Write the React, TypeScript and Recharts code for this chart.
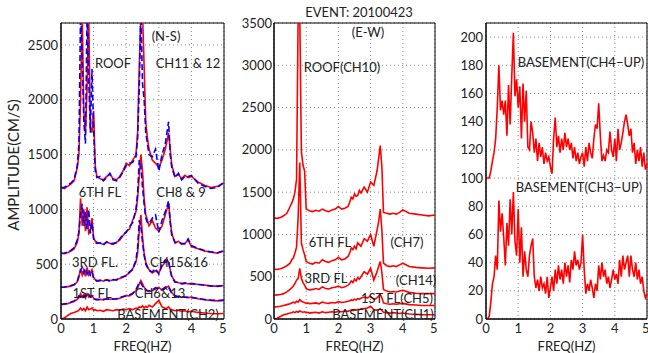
import React from "react";
import {
  LineChart,
  Line,
  XAxis,
  YAxis,
  CartesianGrid,
  ReferenceArea,
} from "recharts";

// frequency grid (Hz) for the N-S and E-W panels
const F12 = [
  0, 0.1, 0.2, 0.3, 0.4, 0.5,
  0.55, 0.6, 0.65, 0.7, 0.75, 0.8, 0.85, 0.9, 0.95, 1.0, 1.05,
  1.1, 1.2, 1.3, 1.4, 1.5, 1.6, 1.7, 1.8, 1.9, 2.0, 2.1, 2.2, 2.3,
  2.35, 2.4, 2.45, 2.5, 2.55, 2.6, 2.65,
  2.7, 2.8, 2.9, 3.0, 3.1, 3.2,
  3.25, 3.3, 3.35,
  3.4, 3.5, 3.6, 3.7, 3.8, 3.9, 4.0,
  4.2, 4.4, 4.6, 4.8, 5.0,
];

// N-S (red = first channel, blue = second channel)
const NS_ROOF_R = [
  1200, 1190, 1210, 1230, 1260, 1380,
  1500, 2000, 2800, 1900, 1700, 2100, 2800, 1750, 1700, 1900, 1400,
  1300, 1280, 1270, 1300, 1320, 1280, 1270, 1300, 1350, 1420, 1400, 1450, 1500,
  1700, 2300, 2800, 2800, 2300, 1800, 1650,
  1550, 1450, 1420, 1380, 1450, 1550,
  1620, 1700, 1550,
  1400, 1300, 1320, 1280, 1310, 1290, 1300,
  1250, 1220, 1200, 1210, 1240,
];
const NS_ROOF_B = [
  1200, 1200, 1220, 1240, 1270, 1400,
  1600, 2800, 2400, 1800, 1600, 2800, 2200, 1700, 2280, 1750, 1350,
  1290, 1300, 1260, 1290, 1330, 1270, 1260, 1290, 1340, 1400, 1420, 1430, 1480,
  1650, 2100, 2800, 2150, 2000, 1700, 1600,
  1500, 1480, 1550, 1350, 1500, 1600,
  1700, 1800, 1500,
  1380, 1290, 1330, 1270, 1300, 1300, 1310,
  1240, 1210, 1190, 1200, 1250,
];
const NS_6TH_R = [
  600, 595, 605, 620, 640, 700,
  780, 1100, 850, 1000, 800, 1020, 780, 800, 920, 740, 710,
  700, 690, 680, 700, 690, 680, 700, 720, 760, 800, 820, 900, 980,
  1100, 1300, 1500, 1350, 1100, 950, 900,
  850, 900, 830, 800, 850, 950,
  1000, 1050, 900,
  780, 690, 710, 680, 690, 720, 660,
  640, 620, 610, 600, 620,
];
const NS_6TH_B = [
  600, 602, 610, 625, 650, 720,
  800, 950, 1050, 850, 980, 820, 1000, 780, 880, 730, 700,
  690, 695, 675, 705, 685, 690, 695, 730, 770, 790, 840, 880, 1000,
  1150, 1450, 1400, 1200, 1050, 920, 880,
  870, 920, 950, 790, 900, 980,
  1020, 1080, 880,
  760, 700, 700, 690, 685, 730, 670,
  645, 625, 612, 605, 625,
];
const NS_3RD_R = [
  290, 290, 295, 300, 310, 340,
  380, 460, 400, 450, 390, 470, 400, 420, 450, 380, 360,
  350, 355, 345, 360, 350, 355, 360, 370, 380, 400, 420, 460, 520,
  600, 800, 950, 750, 600, 520, 480,
  450, 420, 440, 420, 480, 520,
  540, 520, 450,
  390, 340, 330, 325, 330, 320, 325,
  315, 310, 300, 300, 305,
];
const NS_3RD_B = [
  290, 292, 298, 305, 315, 345,
  400, 440, 470, 420, 460, 410, 450, 400, 430, 370, 355,
  345, 350, 350, 355, 345, 360, 355, 375, 385, 395, 430, 450, 540,
  650, 900, 850, 700, 580, 500, 470,
  440, 430, 460, 410, 500, 540,
  520, 530, 440,
  380, 335, 335, 320, 325, 325, 320,
  318, 308, 302, 298, 305,
];
const NS_1ST_R = [
  130, 135, 140, 150, 160, 180,
  195, 230, 200, 220, 190, 230, 200, 210, 215, 190, 180,
  175, 180, 175, 185, 180, 185, 180, 190, 200, 215, 210, 230, 260,
  280, 320, 350, 320, 290, 270, 260,
  250, 260, 270, 290, 260, 280,
  290, 300, 270,
  240, 210, 205, 200, 200, 195, 200,
  185, 175, 170, 165, 170,
];
const NS_1ST_B = [
  135, 138, 142, 152, 165, 185,
  210, 200, 225, 200, 220, 205, 225, 200, 205, 185, 178,
  180, 175, 180, 180, 185, 180, 185, 195, 205, 210, 220, 235, 270,
  300, 340, 330, 300, 280, 265, 255,
  255, 265, 285, 275, 270, 290,
  300, 290, 260,
  235, 212, 200, 202, 198, 197, 195,
  188, 178, 172, 168, 172,
];
const NS_BASE = [
  0, 10, 30, 50, 60, 70,
  80, 100, 80, 95, 75, 110, 85, 90, 100, 80, 85,
  75, 80, 70, 85, 80, 75, 85, 80, 90, 85, 95, 85, 100,
  95, 110, 105, 120, 100, 115, 105,
  125, 110, 140, 170, 110, 95,
  100, 110, 90,
  85, 75, 80, 70, 75, 65, 70,
  60, 55, 50, 48, 50,
];

// E-W
const EW_ROOF = [
  1195, 1190, 1200, 1220, 1250, 1330,
  1370, 1420, 1500, 1650, 3600, 3600, 1980, 1820, 1750, 1300, 1290,
  1280, 1270, 1285, 1275, 1300, 1280, 1270, 1290, 1300, 1330, 1300, 1310, 1330,
  1380, 1440, 1420, 1480, 1450, 1460, 1520,
  1490, 1560, 1500, 1620, 1580, 1750,
  1900, 2050, 1800,
  1260, 1250, 1240, 1250, 1240, 1260, 1290,
  1250, 1240, 1230, 1220, 1230,
];
const EW_6TH = [
  590, 585, 595, 610, 630, 660,
  700, 720, 780, 850, 1200, 1850, 900, 820, 760, 680, 670,
  660, 650, 670, 660, 700, 680, 670, 690, 700, 730, 700, 710, 740,
  780, 840, 820, 860, 830, 900, 880,
  860, 950, 920, 1000, 860, 1050,
  1150, 1300, 1050,
  660, 630, 620, 630, 620, 640, 660,
  620, 610, 605, 600, 605,
];
const EW_3RD = [
  280, 285, 290, 300, 320, 350,
  370, 390, 420, 460, 480, 600, 480, 430, 400, 360, 350,
  345, 350, 360, 350, 380, 360, 355, 370, 375, 390, 370, 380, 400,
  420, 450, 430, 470, 450, 490, 470,
  500, 560, 530, 600, 460, 560,
  620, 680, 550,
  350, 330, 320, 325, 320, 330, 340,
  315, 305, 300, 300, 300,
];
const EW_1ST = [
  140, 145, 150, 160, 170, 180,
  190, 200, 190, 210, 200, 230, 210, 200, 195, 185, 190,
  180, 185, 190, 180, 200, 190, 185, 195, 190, 205, 195, 200, 210,
  215, 225, 220, 235, 225, 240, 235,
  245, 260, 250, 270, 230, 250,
  270, 290, 250,
  190, 180, 175, 180, 175, 180, 185,
  170, 165, 160, 160, 160,
];
const EW_BASE = [
  0, 10, 30, 50, 60, 70,
  75, 85, 75, 90, 80, 95, 85, 80, 85, 75, 80,
  70, 75, 80, 70, 85, 75, 80, 85, 80, 90, 85, 95, 90,
  100, 105, 100, 110, 105, 115, 110,
  120, 125, 130, 150, 110, 105,
  110, 120, 100,
  80, 75, 70, 75, 70, 65, 70,
  60, 55, 50, 50, 50,
];

// vertical (UP) panel, finer grid
const F3 = [
  0, 0.05, 0.1, 0.15, 0.2, 0.25, 0.3, 0.35, 0.4, 0.45,
  0.5, 0.55, 0.6, 0.65, 0.7, 0.75, 0.8, 0.85, 0.9, 0.95,
  1.0, 1.05, 1.1, 1.15, 1.2, 1.25, 1.3, 1.35, 1.4, 1.45,
  1.5, 1.55, 1.6, 1.65, 1.7, 1.75, 1.8, 1.85, 1.9, 1.95,
  2.0, 2.05, 2.1, 2.15, 2.2, 2.25, 2.3, 2.35, 2.4, 2.45,
  2.5, 2.55, 2.6, 2.65, 2.7, 2.75, 2.8, 2.85, 2.9, 2.95,
  3.0, 3.05, 3.1, 3.15, 3.2, 3.25, 3.3, 3.35, 3.4, 3.45,
  3.5, 3.55, 3.6, 3.65, 3.7, 3.75, 3.8, 3.85, 3.9, 3.95,
  4.0, 4.05, 4.1, 4.15, 4.2, 4.25, 4.3, 4.35, 4.4, 4.45,
  4.5, 4.55, 4.6, 4.65, 4.7, 4.75, 4.8, 4.85, 4.9, 4.95,
  5.0,
];
const UD_CH4 = [
  100, 100, 100, 105, 112, 118, 128, 150, 180, 148,
  155, 145, 155, 130, 166, 138, 172, 203, 158, 170,
  150, 165, 128, 167, 140, 162, 122, 120, 140, 132,
  118, 128, 112, 125, 115, 122, 110, 118, 112, 115,
  108, 103, 128, 143, 122, 130, 118, 128, 120, 132,
  122, 128, 120, 125, 114, 122, 112, 118, 110, 115,
  118, 108, 122, 112, 125, 118, 114, 128, 138, 135,
  153, 130, 112, 116, 112, 120, 118, 133, 120, 115,
  128, 112, 135, 120, 125, 132, 140, 145, 138, 130,
  135, 118, 125, 110, 120, 112, 122, 108, 118, 106,
  110,
];
const UD_CH3 = [
  0, 0, 2, 12, 25, 30, 45, 35, 84, 62,
  75, 58, 38, 68, 52, 85, 60, 90, 55, 45,
  78, 40, 65, 30, 48, 35, 30, 45, 52, 57,
  30, 22, 28, 20, 30, 22, 25, 18, 30, 15,
  22, 30, 20, 35, 25, 38, 28, 35, 25, 40,
  30, 38, 26, 42, 35, 48, 38, 42, 35, 40,
  60, 35, 18, 25, 20, 28, 22, 15, 25, 20,
  38, 28, 40, 30, 35, 25, 30, 22, 28, 35,
  28, 32, 25, 42, 30, 45, 35, 40, 45, 30,
  45, 35, 30, 40, 28, 35, 25, 30, 20, 15,
  18,
];

const X_TICKS = [0, 1, 2, 3, 4, 5];
const NS_TICKS = [0, 500, 1000, 1500, 2000, 2500];
const EW_TICKS = [0, 500, 1000, 1500, 2000, 2500, 3000, 3500];
const UD_TICKS = [0, 20, 40, 60, 80, 100, 120, 140, 160, 180, 200];

const RED = "#ff0000";
const BLUE = "#0000ff";
const INK = "#222";
const FONT = "Lato, 'Open Sans', sans-serif";

const rows12 = F12.map((f, i) => ({
  f,
  nsRoofR: NS_ROOF_R[i],
  nsRoofB: NS_ROOF_B[i],
  ns6R: NS_6TH_R[i],
  ns6B: NS_6TH_B[i],
  ns3R: NS_3RD_R[i],
  ns3B: NS_3RD_B[i],
  ns1R: NS_1ST_R[i],
  ns1B: NS_1ST_B[i],
  nsBase: NS_BASE[i],
  ewRoof: EW_ROOF[i],
  ew6: EW_6TH[i],
  ew3: EW_3RD[i],
  ew1: EW_1ST[i],
  ewBase: EW_BASE[i],
}));

const rows3 = F3.map((f, i) => ({ f, ch4: UD_CH4[i], ch3: UD_CH3[i] }));

const tickStyle = { fill: INK, fontSize: 13 };

function Txt({ x, y, children }: { x: number; y: number; children: React.ReactNode }) {
  return (
    <div
      style={{
        position: "absolute",
        left: x,
        top: y,
        transform: "translate(-50%, -50%)",
        whiteSpace: "nowrap",
        fontSize: 13,
        lineHeight: 1,
        color: INK,
        pointerEvents: "none",
      }}
    >
      {children}
    </div>
  );
}

function xAxis() {
  return (
    <XAxis
      type="number"
      dataKey="f"
      domain={[0, 5]}
      ticks={X_TICKS}
      tick={tickStyle}
      tickSize={0}
      tickMargin={5}
      axisLine={{ stroke: "#000" }}
      height={34}
      label={{ value: "FREQ(HZ)", position: "insideBottom", offset: 2, fill: INK, fontSize: 13 }}
    />
  );
}

function redLine(key: string) {
  return (
    <Line
      key={key}
      dataKey={key}
      stroke={RED}
      strokeWidth={1.6}
      dot={false}
      isAnimationActive={false}
    />
  );
}

function blueLine(key: string) {
  return (
    <Line
      key={key}
      dataKey={key}
      stroke={BLUE}
      strokeWidth={1.6}
      strokeDasharray="6 3"
      dot={false}
      isAnimationActive={false}
    />
  );
}

export default function App() {
  return (
    <div
      style={{
        position: "absolute",
        left: 0,
        top: 0,
        width: 648,
        height: 353,
        background: "#fff",
        fontFamily: FONT,
        overflow: "hidden",
      }}
    >
      {/* N-S */}
      <div style={{ position: "absolute", left: 21, top: 0 }}>
        <LineChart width={205} height={353} data={rows12} margin={{ top: 23, right: 2, left: 0, bottom: 0 }}>
          <CartesianGrid strokeDasharray="1 3" stroke="#888" />
          {xAxis()}
          <YAxis
            type="number"
            domain={[0, 2700]}
            ticks={NS_TICKS}
            allowDataOverflow
            tick={tickStyle}
            tickSize={0}
            tickMargin={3}
            axisLine={{ stroke: "#000" }}
            width={40}
          />
          {redLine("nsBase")}
          {redLine("ns1R")}
          {blueLine("ns1B")}
          {redLine("ns3R")}
          {blueLine("ns3B")}
          {redLine("ns6R")}
          {blueLine("ns6B")}
          {redLine("nsRoofR")}
          {blueLine("nsRoofB")}
          <ReferenceArea x1={0} x2={5} y1={0} y2={2700} fill="none" stroke="#000" />
        </LineChart>
      </div>

      {/* E-W */}
      <div style={{ position: "absolute", left: 234, top: 0 }}>
        <LineChart width={203} height={353} data={rows12} margin={{ top: 23, right: 2, left: 0, bottom: 0 }}>
          <CartesianGrid strokeDasharray="1 3" stroke="#888" />
          {xAxis()}
          <YAxis
            type="number"
            domain={[0, 3500]}
            ticks={EW_TICKS}
            allowDataOverflow
            tick={tickStyle}
            tickSize={0}
            tickMargin={2}
            axisLine={{ stroke: "#000" }}
            width={40}
          />
          {redLine("ewBase")}
          {redLine("ew1")}
          {redLine("ew3")}
          {redLine("ew6")}
          {redLine("ewRoof")}
          <ReferenceArea x1={0} x2={5} y1={0} y2={3500} fill="none" stroke="#000" />
        </LineChart>
      </div>

      {/* UP */}
      <div style={{ position: "absolute", left: 456, top: 0 }}>
        <LineChart width={193} height={353} data={rows3} margin={{ top: 23, right: 2, left: 0, bottom: 0 }}>
          <CartesianGrid strokeDasharray="1 3" stroke="#888" />
          {xAxis()}
          <YAxis
            type="number"
            domain={[0, 210]}
            ticks={UD_TICKS}
            allowDataOverflow
            tick={tickStyle}
            tickSize={0}
            tickMargin={3}
            axisLine={{ stroke: "#000" }}
            width={30}
          />
          {redLine("ch3")}
          {redLine("ch4")}
          <ReferenceArea x1={0} x2={5} y1={0} y2={210} fill="none" stroke="#000" />
        </LineChart>
      </div>

      <div
        style={{
          position: "absolute",
          left: 13,
          top: 165,
          transform: "translate(-50%, -50%) rotate(-90deg)",
          whiteSpace: "nowrap",
          fontSize: 15,
          lineHeight: 1,
          color: INK,
        }}
      >
        AMPLITUDE(CM/S)
      </div>

      <Txt x={359} y={12}>EVENT: 20100423</Txt>

      <Txt x={166} y={36}>(N-S)</Txt>
      <Txt x={113} y={63}>ROOF</Txt>
      <Txt x={188} y={63}>CH11 &amp; 12</Txt>
      <Txt x={100} y={192}>6TH FL</Txt>
      <Txt x={181} y={192}>CH8 &amp; 9</Txt>
      <Txt x={95} y={262}>3RD FL.</Txt>
      <Txt x={179} y={262}>CH15&amp;16</Txt>
      <Txt x={92} y={293}>1ST FL</Txt>
      <Txt x={160} y={293}>CH6&amp;13</Txt>
      <Txt x={168} y={314}>BASEMENT(CH2)</Txt>

      <Txt x={368} y={32}>(E-W)</Txt>
      <Txt x={342} y={67}>ROOF(CH10)</Txt>
      <Txt x={330} y={242}>6TH FL</Txt>
      <Txt x={407} y={242}>(CH7)</Txt>
      <Txt x={326} y={278}>3RD FL</Txt>
      <Txt x={416} y={280}>(CH14)</Txt>
      <Txt x={397} y={298}>1ST FL(CH5)</Txt>
      <Txt x={383} y={314}>BASEMENT(CH1)</Txt>

      <Txt x={581} y={62}>BASEMENT(CH4−UP)</Txt>
      <Txt x={579} y={187}>BASEMENT(CH3−UP)</Txt>
    </div>
  );
}
